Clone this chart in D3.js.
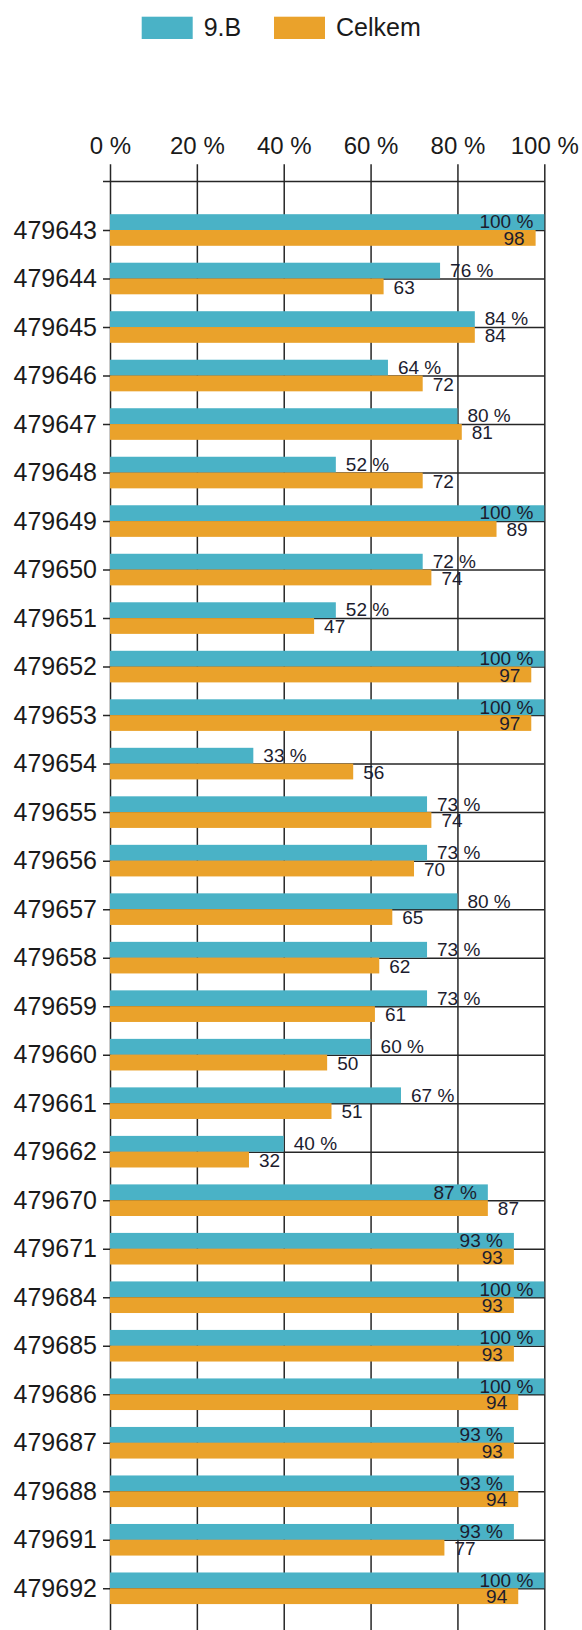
<!DOCTYPE html>
<html>
<head>
<meta charset="utf-8">
<script src="https://cdn.jsdelivr.net/npm/d3@7/dist/d3.min.js"></script>
<style>
  html, body { margin: 0; padding: 0; background: #fff; }
  svg { display: block; font-family: "Liberation Sans", Arial, sans-serif; }
</style>
</head>
<body>
<svg id="chart" width="582" height="1630"></svg>
<script>
const categories = ["479643","479644","479645","479646","479647","479648","479649","479650","479651","479652",
  "479653","479654","479655","479656","479657","479658","479659","479660","479661","479662",
  "479670","479671","479684","479685","479686","479687","479688","479691","479692"];
const classValues = [100,76,84,64,80,52,100,72,52,100,100,33,73,73,80,73,73,60,67,40,87,93,100,100,100,93,93,93,100];
const totalValues = [98,63,84,72,81,72,89,74,47,97,97,56,74,70,65,62,61,50,51,32,87,93,93,93,94,93,94,77,94];
const seriesNames = ["9.B", "Celkem"];
const tickValues = [0, 20, 40, 60, 80, 100];
const tickLabels = ["0 %", "20 %", "40 %", "60 %", "80 %", "100 %"];

(function () {
const colors = ["#4ab2c6", "#eaa22b"];
const lineColor = "#262626";

const svg = d3.select("#chart");
const plotLeft = 110, plotRight = 544.3;
const plotTop = 164.3, plotBottom = 1665;
const firstY = 230, step = 48.51;
const barH = 15.8;

const x = d3.scaleLinear().domain([0, 100]).range([plotLeft, plotRight]);
const y = d3.scalePoint().domain(categories).range([firstY, firstY + step * (categories.length - 1)]);

// X axis (top) with vertical gridlines
const xAxis = d3.axisTop(x)
  .tickValues(tickValues)
  .tickFormat((d, i) => tickLabels[i])
  .tickSize(-(plotBottom - plotTop))
  .tickPadding(10);
const gx = svg.append("g").attr("transform", `translate(0,${plotTop})`).call(xAxis);
gx.select(".domain").remove();
gx.selectAll(".tick line").attr("stroke", lineColor).attr("stroke-width", 1.5);
gx.selectAll(".tick text").attr("font-size", 24).attr("fill", "#1a1a1a")
  .attr("font-family", "'Liberation Sans', Arial, sans-serif");

// Y axis with horizontal lines
const yAxis = d3.axisLeft(y).tickSize(7).tickPadding(6);
const gy = svg.append("g").attr("transform", `translate(${plotLeft},0)`).call(yAxis);
gy.select(".domain").remove();
gy.selectAll(".tick line").attr("x1", plotRight - plotLeft).attr("stroke", lineColor).attr("stroke-width", 1.5);
gy.selectAll(".tick text").attr("font-size", 25).attr("fill", "#1a1a1a")
  .attr("font-family", "'Liberation Sans', Arial, sans-serif");

// extra top horizontal line
svg.append("line")
  .attr("x1", plotLeft - 7).attr("x2", plotRight)
  .attr("y1", y(categories[0]) - step).attr("y2", y(categories[0]) - step)
  .attr("stroke", lineColor).attr("stroke-width", 1.5);

// Bars
const data = categories.map((c, i) => ({ c, v: [classValues[i], totalValues[i]] }));
const gBars = svg.append("g");
[0, 1].forEach(s => {
  gBars.selectAll(null).data(data).enter().append("rect")
    .attr("x", x(0))
    .attr("y", d => s === 0 ? y(d.c) - barH : y(d.c))
    .attr("width", d => x(d.v[s]) - x(0))
    .attr("height", barH)
    .attr("fill", colors[s]);
});

// Value labels
const gLab = svg.append("g").attr("font-size", 19).attr("fill", "#1c1c2e");
[0, 1].forEach(s => {
  data.forEach(d => {
    const end = x(d.v[s]);
    const t = gLab.append("text")
      .attr("y", s === 0 ? y(d.c) - 1.6 : y(d.c) + 15)
      .text(s === 0 ? d.v[s] + " %" : String(d.v[s]));
    const w = t.node().getComputedTextLength();
    if (end + 10 + w <= plotRight - 8) {
      t.attr("x", end + 10).attr("text-anchor", "start");
    } else {
      t.attr("x", end - 11).attr("text-anchor", "end");
    }
  });
});

// Legend
const legend = svg.append("g");
const legendX = [141.7, 274];
seriesNames.forEach((n, i) => {
  legend.append("rect").attr("x", legendX[i]).attr("y", 16.7).attr("width", 51).attr("height", 22.3).attr("fill", colors[i]);
  legend.append("text").attr("x", legendX[i] + 62).attr("y", 36).attr("font-size", 25).attr("fill", "#1a1a1a").text(n);
});
})();
</script>
</body>
</html>
